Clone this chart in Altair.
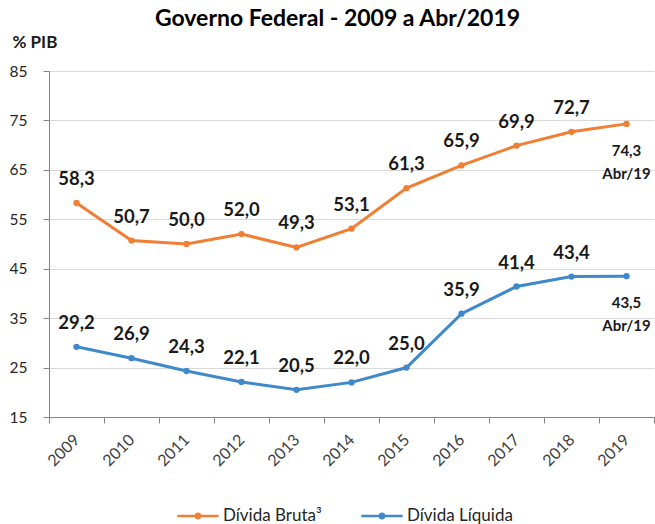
import altair as alt
import pandas as pd

years = ["2009", "2010", "2011", "2012", "2013", "2014", "2015", "2016", "2017", "2018", "2019"]
bruta = [58.3, 50.7, 50.0, 52.0, 49.3, 53.1, 61.3, 65.9, 69.9, 72.7, 74.3]
liquida = [29.2, 26.9, 24.3, 22.1, 20.5, 22.0, 25.0, 35.9, 41.4, 43.4, 43.5]
series = ["Dívida Bruta³", "Dívida Líquida"]
colors = ["#F07E33", "#3F89CB"]
last_label = "Abr/19"
y_ticks = [15, 25, 35, 45, 55, 65, 75, 85]

rows = []
for name, vals in zip(series, [bruta, liquida]):
    for i, (yr, v) in enumerate(zip(years, vals)):
        is_last = i == len(years) - 1
        lab = f"{v:.1f}".replace(".", ",")
        rows.append({"ano": yr, "valor": v, "serie": name, "rotulo": lab,
                     "ultimo": is_last,
                     "rotulo_final": lab + "\n" + last_label if is_last else ""})
df = pd.DataFrame(rows)

FONT = "Lato"

x = alt.X("ano:O", sort=years, title=None,
          scale=alt.Scale(type="band", paddingInner=0, paddingOuter=0),
          axis=alt.Axis(tickBand="extent", labelAngle=-45, labelAlign="right",
                        labelBaseline="middle", labelPadding=14, tickSize=6,
                        labelFontSize=16, labelColor="#404040", labelFont=FONT,
                        domainColor="#868686", tickColor="#868686", grid=False))
y = alt.Y("valor:Q", title="% PIB",
          scale=alt.Scale(domain=[15, 85], nice=False, zero=False),
          axis=alt.Axis(values=y_ticks, tickSize=6, labelPadding=16, labelFontSize=15.5,
                        labelColor="#262626", labelFont=FONT,
                        domainColor="#868686", tickColor="#868686",
                        gridColor="#d9d9d9", gridWidth=1.2,
                        titleAngle=0, titleX=-37, titleY=-29, titleAlign="left",
                        titleBaseline="middle", titleFontSize=17, titleFont=FONT,
                        titleFontWeight="bold", titleColor="#1a1a1a"))
color = alt.Color("serie:N", sort=series,
                  scale=alt.Scale(domain=series, range=colors),
                  legend=alt.Legend(title=None, orient="none", direction="horizontal",
                                    legendX=127, legendY=423,
                                    symbolType="M-1,0L1,0M-0.11,0a0.11,0.11 0 1,0 0.22,0a0.11,0.11 0 1,0 -0.22,0",
                                    symbolSize=1700, symbolStrokeWidth=2.5,
                                    labelFontSize=17, labelFont=FONT, labelColor="#262626",
                                    columnPadding=34, labelOffset=3))

base = alt.Chart(df)
lines = base.mark_line(strokeWidth=3).encode(x=x, y=y, color=color)
points = base.mark_circle(size=40, opacity=1).encode(x=x, y=y, color=alt.Color("serie:N", scale=alt.Scale(domain=series, range=colors), legend=None))
labels = base.transform_filter("!datum.ultimo").mark_text(
    dy=-24, fontSize=18.5, fontWeight="bold", font=FONT, color="#1a1a1a"
).encode(x=x, y=y, text="rotulo:N")
last = base.transform_filter("datum.ultimo").mark_text(
    dy=27, fontSize=15, fontWeight="bold", font=FONT, color="#1a1a1a",
    lineBreak="\n", lineHeight=23
).encode(x=x, y=y, text="rotulo_final:N")

chart = alt.layer(lines, points, labels, last).properties(
    width=605, height=346,
    title=alt.TitleParams("Governo Federal - 2009 a Abr/2019", fontSize=23, font=FONT,
                          fontWeight="bold", color="#000000", anchor="middle",
                          baseline="alphabetic", offset=-16, dx=-14),
    autosize=alt.AutoSizeParams(type="none"),
    padding={"left": 49, "top": 71, "right": 1, "bottom": 107},
).configure_view(stroke=None)

chart.save("out.html", embed_options={"renderer": "svg", "actions": False})
